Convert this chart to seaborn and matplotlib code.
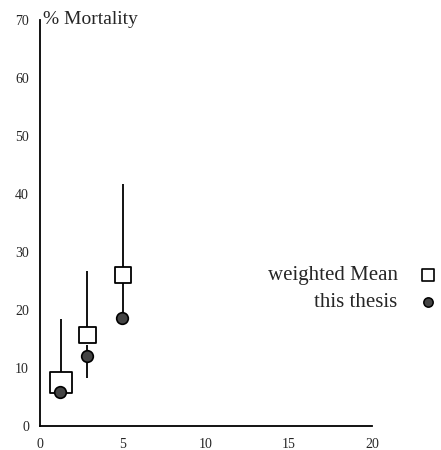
import matplotlib
matplotlib.use("Agg")
import matplotlib.pyplot as plt
import seaborn as sns
import pandas as pd

# data
wm_x = [1.25, 2.85, 5.0]
wm_y = [7.5, 15.7, 26.0]
wm_hi = [18.5, 26.7, 41.8]
wm_lo = [7.5, 15.7, 19.5]

th_x = [1.2, 2.85, 4.95]
th_y = [5.9, 12.0, 18.7]
th_hi = [5.9, 14.0, 18.7]
th_lo = [5.9, 8.3, 18.7]

x_ticks = [0, 5, 10, 15, 20]
y_ticks = [0, 10, 20, 30, 40, 50, 60, 70]

sns.set_style("white")
plt.rcParams['font.family'] = ['Liberation Serif', 'DejaVu Serif']

fig = plt.figure(figsize=(4.41, 4.5), dpi=100)
ax = fig.add_axes([40/441, 24/450, 332/441, 406/450])

wm = pd.DataFrame({"x": wm_x, "y": wm_y})
th = pd.DataFrame({"x": th_x, "y": th_y})

ax.vlines(wm_x, wm_lo, wm_hi, color="black", lw=1.3, zorder=1)
ax.vlines(th_x, th_lo, th_hi, color="black", lw=1.3, zorder=1)

sns.scatterplot(data=wm, x="x", y="y", ax=ax, marker="s", s=[250, 140, 140],
                facecolor="white", edgecolor="black", linewidth=1.3, zorder=3, legend=False)
sns.scatterplot(data=th, x="x", y="y", ax=ax, marker="o", s=70,
                color="#444444", edgecolor="black", linewidth=1.2, zorder=4, legend=False)

ax.set_xlim(0, 20)
ax.set_ylim(0, 70)
ax.set_xticks(x_ticks)
ax.set_yticks(y_ticks)
ax.set_xlabel("")
ax.set_ylabel("")
for s in ["top", "right"]:
    ax.spines[s].set_visible(False)
for s in ["left", "bottom"]:
    ax.spines[s].set_linewidth(1.3)
    ax.spines[s].set_color("black")
ax.tick_params(axis="y", direction="in", length=2, width=1.2, labelsize=10, pad=8)
ax.tick_params(axis="x", direction="inout", length=7, width=1.2, labelsize=10, pad=5)

ax.text(0.008, 1.0, "% Mortality", transform=ax.transAxes, fontsize=14,
        ha="left", va="center")

# legend
ax.text(21.55, 26.0, "weighted Mean", fontsize=15, ha="right", va="center", clip_on=False)
ax.text(21.55, 21.3, "this thesis", fontsize=15, ha="right", va="center", clip_on=False)
ax.scatter([23.4], [26.0], marker="s", s=80, facecolor="white", edgecolor="black",
           linewidth=1.2, clip_on=False, zorder=5)
ax.scatter([23.4], [21.3], marker="o", s=45, color="#444444", edgecolor="black",
           linewidth=1.1, clip_on=False, zorder=5)

fig.savefig("out.png", dpi=100)
